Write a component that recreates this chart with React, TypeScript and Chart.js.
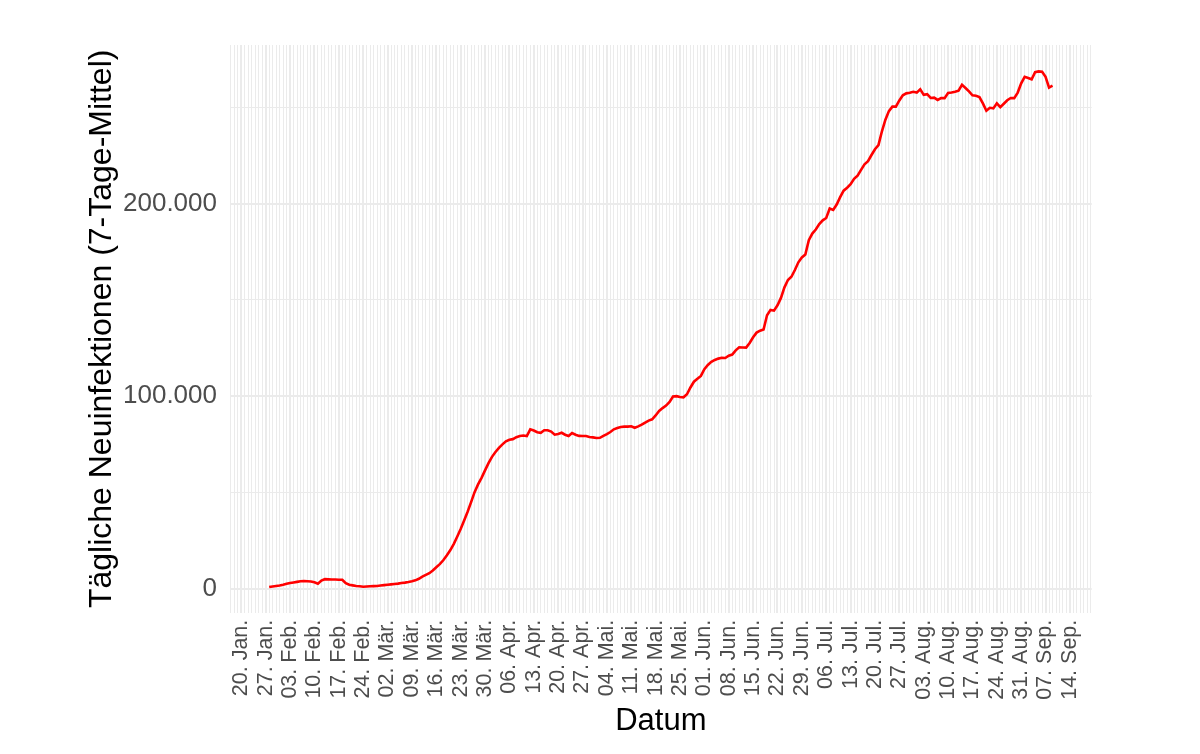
import React, { useEffect, useRef } from "react";
import { Chart, registerables } from "chart.js";

Chart.register(...registerables);

// Wochen-Beschriftungen der x-Achse (Tag 0 = 20. Jan. 2020, alle 7 Tage)
const weekLabels = [
  "20. Jan.", "27. Jan.",
  "03. Feb.", "10. Feb.", "17. Feb.", "24. Feb.",
  "02. Mär.", "09. Mär.", "16. Mär.", "23. Mär.", "30. Mär.",
  "06. Apr.", "13. Apr.", "20. Apr.", "27. Apr.",
  "04. Mai.", "11. Mai.", "18. Mai.", "25. Mai.",
  "01. Jun.", "08. Jun.", "15. Jun.", "22. Jun.", "29. Jun.",
  "06. Jul.", "13. Jul.", "20. Jul.", "27. Jul.",
  "03. Aug.", "10. Aug.", "17. Aug.", "24. Aug.", "31. Aug.",
  "07. Sep.", "14. Sep.",
];

// erster Datenpunkt: 28. Jan. = Tag 8
const firstDay = 8;

// Tägliche Neuinfektionen (7-Tage-Mittel), in Tausend, ab 28. Jan.
const casesK = [
  0.9, 1.2, 1.5, 1.7, 2.1, 2.6, 3.0, 3.3, 3.6, 3.9,
  4.0, 3.9, 3.8, 3.4, 2.6, 4.3, 5.0, 4.9, 4.8, 4.8,
  4.7, 4.7, 2.9, 2.1, 1.8, 1.5, 1.3, 1.1, 1.2, 1.3,
  1.4, 1.5, 1.7, 1.9, 2.1, 2.3, 2.5, 2.7, 3.0, 3.2,
  3.5, 3.9, 4.4, 5.2, 6.3, 7.2, 8.1, 9.5, 11.2, 12.8,
  14.8, 17.3, 20.0, 23.2, 27.0, 31.0, 35.5, 40.0, 45.0, 50.2,
  54.2, 57.6, 61.5, 65.2, 68.5, 71.0, 73.2, 75.0, 76.6, 77.4,
  77.7, 78.7, 79.3, 79.6, 79.3, 82.8, 82.2, 81.3, 81.0, 82.3,
  82.3, 81.6, 80.0, 80.4, 81.0, 80.0, 79.3, 80.9, 80.0, 79.4,
  79.3, 79.3, 78.8, 78.6, 78.3, 78.4, 79.4, 80.3, 81.4, 82.8,
  83.5, 84.0, 84.2, 84.2, 84.4, 83.6, 84.3, 85.2, 86.3, 87.3,
  88.0, 90.0, 92.3, 93.8, 95.1, 97.0, 99.8, 100.0, 99.6, 99.4,
  101.0, 104.5, 107.5, 109.0, 110.5, 114.0, 116.2, 117.8, 118.8, 119.5,
  119.9, 119.8, 121.0, 121.6, 123.8, 125.4, 125.3, 125.2, 127.6, 130.6,
  133.0, 134.0, 134.6, 142.0, 144.8, 144.4, 147.2, 151.0, 156.5, 160.3,
  162.0, 165.5, 169.5, 172.0, 173.5, 181.0, 184.4, 186.5, 189.3, 191.3,
  192.5, 197.4, 196.7, 199.5, 203.3, 206.7, 208.2, 210.0, 212.8, 214.5,
  217.5, 220.4, 222.0, 225.2, 228.2, 230.3, 237.5, 243.5, 248.0, 250.3,
  250.3, 253.5, 256.2, 257.2, 257.5, 258.0, 257.6, 259.3, 256.4, 256.8,
  254.8, 255.0, 253.8, 254.7, 254.7, 257.4, 257.6, 258.0, 258.6, 261.6,
  260.0, 258.2, 256.2, 256.0, 255.3, 252.0, 248.2, 249.7, 249.4, 252.0,
  250.0, 251.8, 253.6, 254.8, 254.7, 257.6, 262.4, 265.8, 265.2, 264.5,
  268.2, 268.6, 268.4, 265.8, 260.2, 261.2,
];

// y-Gitter (Tausend): Haupt- und Nebenlinien
const yGridK = [0, 50, 100, 150, 200, 250];
const yLabeledK = [0, 100, 200];

const X_MIN = -3.25;
const X_MAX = 244.25;
const Y_MIN = -12.4;
const Y_MAX = 282.3;

const fmtDE = (n: number) =>
  String(Math.round(n)).replace(/\B(?=(\d{3})+(?!\d))/g, ".");

const FONT = "'Liberation Sans', Arial, Helvetica, sans-serif";

export default function App() {
  const ref = useRef<HTMLCanvasElement | null>(null);

  useEffect(() => {
    if (!ref.current) return;
    const dayTicks: number[] = [];
    for (let d = Math.ceil(X_MIN); d <= Math.floor(X_MAX); d++) dayTicks.push(d);

    const chart = new Chart(ref.current, {
      type: "line",
      data: {
        datasets: [
          {
            data: casesK.map((v, i) => ({ x: firstDay + i, y: v })),
            borderColor: "#FF0000",
            borderWidth: 2.6,
            pointRadius: 0,
            tension: 0,
            fill: false,
          },
        ],
      },
      options: {
        animation: false,
        responsive: false,
        layout: { padding: { left: 0, right: 108.3, top: 45, bottom: 0 } },
        plugins: { legend: { display: false }, tooltip: { enabled: false } },
        scales: {
          x: {
            type: "linear",
            min: X_MIN,
            max: X_MAX,
            afterBuildTicks: (scale: any) => {
              scale.ticks = dayTicks.map((v) => ({ value: v }));
            },
            afterFit: (scale: any) => {
              scale.height = 141.3;
            },
            border: { display: false },
            grid: {
              drawTicks: false,
              color: "#EBEBEB",
              lineWidth: (ctx: any) => (ctx.tick && ctx.tick.value % 7 === 0 ? 2 : 1),
            },
            ticks: {
              autoSkip: false,
              minRotation: 90,
              maxRotation: 90,
              padding: 7,
              color: "#4D4D4D",
              font: { family: FONT, size: 21.5 },
              callback: (value: any) => {
                const v = Number(value);
                if (v >= 0 && v % 7 === 0 && v / 7 < weekLabels.length) return weekLabels[v / 7];
                return "";
              },
            },
            title: {
              display: true,
              text: "Datum",
              color: "#000000",
              font: { family: FONT, size: 31 },
              padding: { top: 0, bottom: 14 },
            },
          },
          y: {
            type: "linear",
            min: Y_MIN,
            max: Y_MAX,
            afterBuildTicks: (scale: any) => {
              scale.ticks = yGridK.map((v) => ({ value: v }));
            },
            afterFit: (scale: any) => {
              scale.width = 230;
            },
            border: { display: false },
            grid: {
              drawTicks: false,
              color: "#EBEBEB",
              lineWidth: (ctx: any) => (ctx.tick && yLabeledK.includes(ctx.tick.value) ? 2 : 1),
            },
            ticks: {
              padding: 13,
              color: "#4D4D4D",
              font: { family: FONT, size: 26 },
              callback: (value: any) => {
                const v = Number(value);
                return yLabeledK.includes(v) ? fmtDE(v * 1000) : "";
              },
            },
            title: {
              display: true,
              text: "Tägliche Neuinfektionen (7-Tage-Mittel)",
              color: "#000000",
              font: { family: FONT, size: 32 },
              padding: { top: 83, bottom: 0 },
            },
          },
        },
      },
    } as any);

    return () => chart.destroy();
  }, []);

  return (
    <div style={{ position: "absolute", left: 0, top: 0, width: 1200, height: 754, background: "#FFFFFF" }}>
      <canvas ref={ref} width={1200} height={754} style={{ display: "block" }} />
    </div>
  );
}
